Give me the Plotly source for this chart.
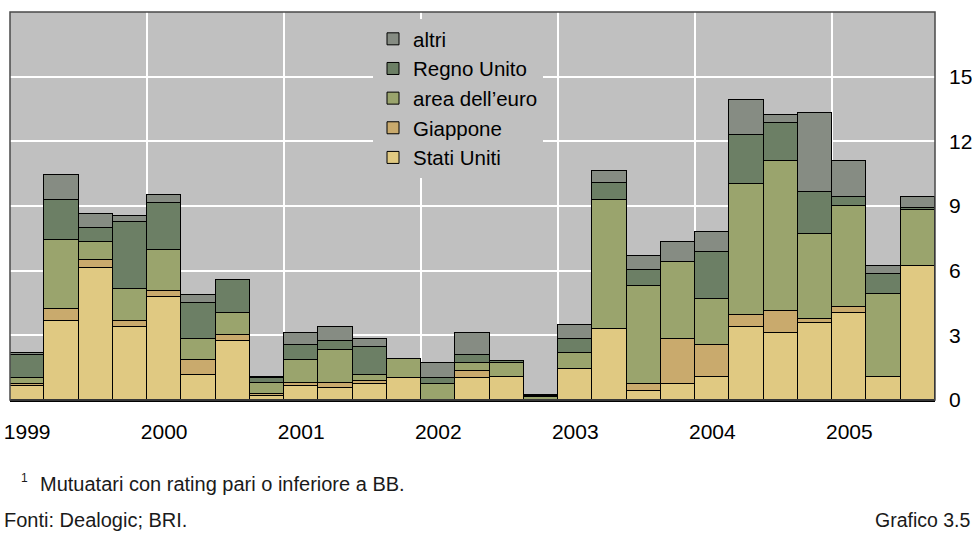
import plotly.graph_objects as go

# Quarterly periods, 1999 Q1 to 2005 Q3
quarters = [f"{y} T{q}" for y in range(1999, 2006) for q in range(1, 5)][:27]
year_labels = ["1999", "2000", "2001", "2002", "2003", "2004", "2005"]

stati_uniti = [0.64, 3.66, 6.12, 3.38, 4.78, 1.18, 2.74, 0.17, 0.63, 0.54,
               0.72, 1.00, 0.00, 1.00, 1.09, 0.00, 1.45, 3.29, 0.44, 0.72,
               1.09, 3.38, 3.11, 3.57, 4.03, 1.09, 6.23]
giappone = [0.09, 0.55, 0.38, 0.28, 0.26, 0.66, 0.27, 0.09, 0.14, 0.27,
            0.18, 0.00, 0.00, 0.36, 0.00, 0.00, 0.00, 0.00, 0.28, 2.11,
            1.47, 0.55, 1.01, 0.18, 0.27, 0.00, 0.00]
area_euro = [0.27, 3.21, 0.85, 1.47, 1.91, 0.99, 1.01, 0.55, 1.07, 1.49,
             0.28, 0.91, 0.72, 0.37, 0.64, 0.12, 0.74, 5.97, 4.59, 3.58,
             2.11, 6.07, 6.98, 3.95, 4.68, 3.85, 2.57]
regno_unito = [1.11, 1.84, 0.61, 3.12, 2.20, 1.65, 1.57, 0.19, 0.73, 0.44,
               1.28, 0.00, 0.28, 0.37, 0.06, 0.08, 0.64, 0.81, 0.74, 0.00,
               2.20, 2.29, 1.74, 1.93, 0.46, 0.92, 0.09]
altri = [0.09, 1.19, 0.66, 0.28, 0.38, 0.37, 0.00, 0.05, 0.54, 0.64,
         0.37, 0.00, 0.73, 1.01, 0.03, 0.05, 0.65, 0.55, 0.64, 0.92,
         0.92, 1.65, 0.37, 3.67, 1.66, 0.37, 0.55]

series = [
    ("Stati Uniti", stati_uniti, "#e0c982"),
    ("Giappone", giappone, "#c9aa6d"),
    ("area dell\u2019euro", area_euro, "#9aa46d"),
    ("Regno Unito", regno_unito, "#6c7f65"),
    ("altri", altri, "#868c83"),
]

x = list(range(len(quarters)))

fig = go.Figure()
for name, vals, color in series:
    fig.add_trace(go.Bar(
        x=x, y=vals, name=name,
        marker=dict(color=color, line=dict(color="#000000", width=1)),
        customdata=quarters,
        hovertemplate="%{customdata}: %{y}<extra>" + name + "</extra>",
    ))

font_family = "Liberation Sans, Arial, sans-serif"
year_ticks = [i * 4 for i in range(len(year_labels))]
year_bounds = [i * 4 - 0.5 for i in range(1, len(year_labels))]

# plot area: 10..935 px horizontally, 12..400 px vertically
PL, PW, PB, PH = 10, 925, 400, 388


def px(xp):
    return (xp - PL) / PW


def py(yp):
    return (PB - yp) / PH


fig.update_layout(
    width=972, height=533,
    margin=dict(l=10, r=37, t=12, b=133, autoexpand=False),
    paper_bgcolor="#ffffff",
    plot_bgcolor="#c0c0c0",
    barmode="stack",
    bargap=0,
    font=dict(family=font_family, size=21, color="#000000"),
    showlegend=True,
    legend=dict(
        x=px(373), y=py(19), xanchor="left", yanchor="top",
        bgcolor="#c0c0c0", borderwidth=0,
        traceorder="reversed",
        font=dict(family=font_family, size=20.5, color="#000000"),
        itemwidth=30,
    ),
    xaxis=dict(
        range=[-0.5, len(quarters) - 0.5],
        tickmode="array", tickvals=year_ticks, ticktext=year_labels,
        ticks="", showgrid=False, zeroline=False,
        showline=True, linecolor="#000000", linewidth=2,
        ticklabelstandoff=12,
        tickfont=dict(size=21),
        minor=dict(tickmode="array", tickvals=year_bounds, showgrid=True,
                   gridcolor="#ffffff", gridwidth=1.5, ticks=""),
        automargin=False,
        fixedrange=True,
    ),
    yaxis=dict(
        range=[0, 18], side="right",
        tickmode="array", tickvals=[0, 3, 6, 9, 12, 15],
        ticks="", showgrid=True, gridcolor="#ffffff", gridwidth=1.5,
        zeroline=False, showline=False,
        ticklabelstandoff=13,
        tickfont=dict(size=21),
        automargin=False,
        fixedrange=True,
    ),
    shapes=[
        dict(type="rect", xref="paper", yref="paper", x0=0, x1=1, y0=0, y1=1,
             line=dict(color="#4a4a4a", width=1.5), fillcolor="rgba(0,0,0,0)",
             layer="above"),
    ],
    annotations=[
        dict(text="1", xref="paper", yref="paper", x=px(19), y=py(478),
             xanchor="left", yanchor="middle", showarrow=False,
             font=dict(family=font_family, size=12, color="#1a1a1a")),
        dict(text="Mutuatari con rating pari o inferiore a BB.", xref="paper", yref="paper",
             x=px(38), y=py(484), xanchor="left", yanchor="middle",
             showarrow=False, font=dict(family=font_family, size=20, color="#1a1a1a")),
        dict(text="Fonti: Dealogic; BRI.", xref="paper", yref="paper",
             x=px(2), y=py(520), xanchor="left", yanchor="middle",
             showarrow=False, font=dict(family=font_family, size=20, color="#1a1a1a")),
        dict(text="Grafico 3.5", xref="paper", yref="paper",
             x=px(973), y=py(520), xanchor="right", yanchor="middle",
             showarrow=False, font=dict(family=font_family, size=19.5, color="#1a1a1a")),
    ],
)

fig.write_html("out.html")
